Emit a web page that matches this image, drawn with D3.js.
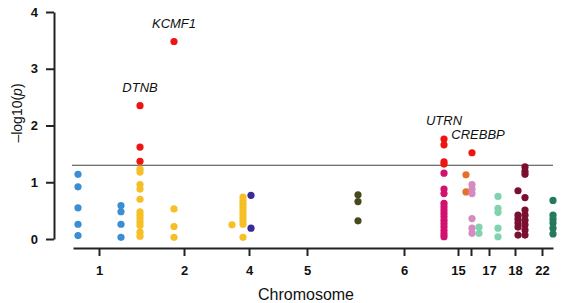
<!DOCTYPE html>
<html>
<head>
<meta charset="utf-8">
<script src="https://cdn.jsdelivr.net/npm/d3@7"></script>
<style>
  body { margin: 0; background: #fff; }
  text { font-family: "Liberation Sans", Arial, sans-serif; }
</style>
</head>
<body>
<div id="chart"></div>
<script>
// chromosome ticks (position along genome, arbitrary units)
var chromLabels = ["1", "2", "4", "5", "6", "15", "", "17", "18", "22"];
var chromPos = [26, 111, 176, 234, 331, 385, 398, 416, 442, 469];
var yTicks = [0, 1, 2, 3, 4];
var threshold = 1.3;

// each column of SNPs: position, colour group, -log10(p) values
var groupPos = [5, 48, 67, 67, 101, 101, 159, 170, 178, 285, 371, 371, 393, 399, 399, 406, 425, 445, 452, 480];
var groupColor = ["blue", "blue", "yellow", "red", "yellow", "red", "yellow", "yellow", "purple", "olive",
                  "magenta", "red", "orange", "pink", "red", "green", "green", "maroon", "maroon", "teal"];
var groupValues = [
  [1.14, 0.92, 0.55, 0.26, 0.06],
  [0.59, 0.48, 0.26, 0.03],
  [1.23, 1.18, 0.96, 0.88, 0.7, 0.48, 0.42, 0.36, 0.3, 0.24, 0.12, 0.05],
  [2.35, 1.62, 1.37],
  [0.53, 0.22, 0.03],
  [3.48],
  [0.25],
  [0.74, 0.68, 0.62, 0.56, 0.5, 0.44, 0.38, 0.32, 0.26, 0.03],
  [0.77, 0.19],
  [0.78, 0.66, 0.32],
  [1.16, 0.88, 0.8, 0.63, 0.57, 0.51, 0.45, 0.39, 0.33, 0.27, 0.21, 0.15, 0.09, 0.04],
  [1.76, 1.66, 1.36, 1.32],
  [1.13, 0.83],
  [0.96, 0.88, 0.8, 0.36, 0.19, 0.1],
  [1.52],
  [0.21, 0.1],
  [0.75, 0.54, 0.47, 0.19, 0.04],
  [0.85, 0.42, 0.35, 0.28, 0.21, 0.07],
  [1.27, 1.19, 1.14, 0.73, 0.51, 0.42, 0.33, 0.25, 0.16, 0.07],
  [0.68, 0.42, 0.35, 0.28, 0.19, 0.09]
];

var geneNames = ["KCMF1", "DTNB", "UTRN", "CREBBP"];
var genePos = [101, 67, 371, 399];
var geneValues = [3.48, 2.35, 1.76, 1.52];

var colors = {
  blue: "#3b8ed2", yellow: "#f5bf25", red: "#ee1410", purple: "#372c98",
  olive: "#48491e", magenta: "#d2126f", orange: "#e3702b", pink: "#d58bc0",
  green: "#7fd3ae", maroon: "#7b0f2f", teal: "#247a5b"
};

var svg = d3.select("#chart").append("svg")
  .attr("width", 568)
  .attr("height", 303);

var x = d3.scaleLinear().domain([0, 480]).range([73, 553]);
var y = d3.scaleLinear().domain([0, 4]).range([239, 12]);

// y axis
var yAxis = svg.append("g")
  .attr("transform", "translate(54,0)")
  .call(d3.axisLeft(y).tickValues(yTicks).tickFormat(d3.format("d"))
    .tickSize(8).tickSizeOuter(0).tickPadding(8));
yAxis.select(".domain").attr("stroke", "#222").attr("stroke-width", 2);
yAxis.selectAll(".tick line").attr("stroke", "#222").attr("stroke-width", 2);
yAxis.selectAll(".tick text")
  .attr("font-size", 13).attr("font-weight", "bold").attr("fill", "#111")
  .attr("font-family", "Liberation Sans, Arial, sans-serif");

// x axis
var xAxis = svg.append("g")
  .attr("transform", "translate(0,248)")
  .call(d3.axisBottom(x).tickValues(chromPos)
    .tickFormat(function(d, i){ return chromLabels[i]; })
    .tickSize(8).tickSizeOuter(0).tickPadding(10));
xAxis.select(".domain").attr("stroke", "#222").attr("stroke-width", 2);
xAxis.selectAll(".tick line").attr("stroke", "#222").attr("stroke-width", 2);
xAxis.selectAll(".tick text")
  .attr("font-size", 13).attr("font-weight", "bold").attr("fill", "#111")
  .attr("font-family", "Liberation Sans, Arial, sans-serif");

// significance line
svg.append("line")
  .attr("x1", x(0) - 1)
  .attr("x2", x(480))
  .attr("y1", y(threshold))
  .attr("y2", y(threshold))
  .attr("stroke", "#444")
  .attr("stroke-width", 1.2);

// points
var points = [];
for (var g = 0; g < groupValues.length; g++) {
  for (var j = 0; j < groupValues[g].length; j++) {
    points.push({ pos: groupPos[g], val: groupValues[g][j], color: colors[groupColor[g]] });
  }
}

svg.append("g").selectAll("circle")
  .data(points)
  .enter()
  .append("circle")
  .attr("cx", function(d){ return x(d.pos); })
  .attr("cy", function(d){ return y(d.val); })
  .attr("r", 3.6)
  .attr("fill", function(d){ return d.color; });

// gene labels
svg.append("g").selectAll("text")
  .data(geneNames)
  .enter()
  .append("text")
  .attr("x", function(d, i){ return x(genePos[i]) + (i == 3 ? 6 : 0); })
  .attr("y", function(d, i){ return y(geneValues[i]) - 14; })
  .attr("text-anchor", "middle")
  .attr("font-size", 13)
  .attr("font-style", "italic")
  .attr("fill", "#111")
  .text(function(d){ return d; });

// axis titles
svg.append("text")
  .attr("x", 306)
  .attr("y", 300)
  .attr("text-anchor", "middle")
  .attr("font-size", 16)
  .attr("fill", "#111")
  .text("Chromosome");

var yTitle = svg.append("text")
  .attr("transform", "translate(22,113) rotate(-90)")
  .attr("text-anchor", "middle")
  .attr("font-size", 14)
  .attr("fill", "#111");
yTitle.append("tspan").text("\u2013log10(");
yTitle.append("tspan").attr("font-style", "italic").text("p");
yTitle.append("tspan").text(")");
</script>
</body>
</html>
